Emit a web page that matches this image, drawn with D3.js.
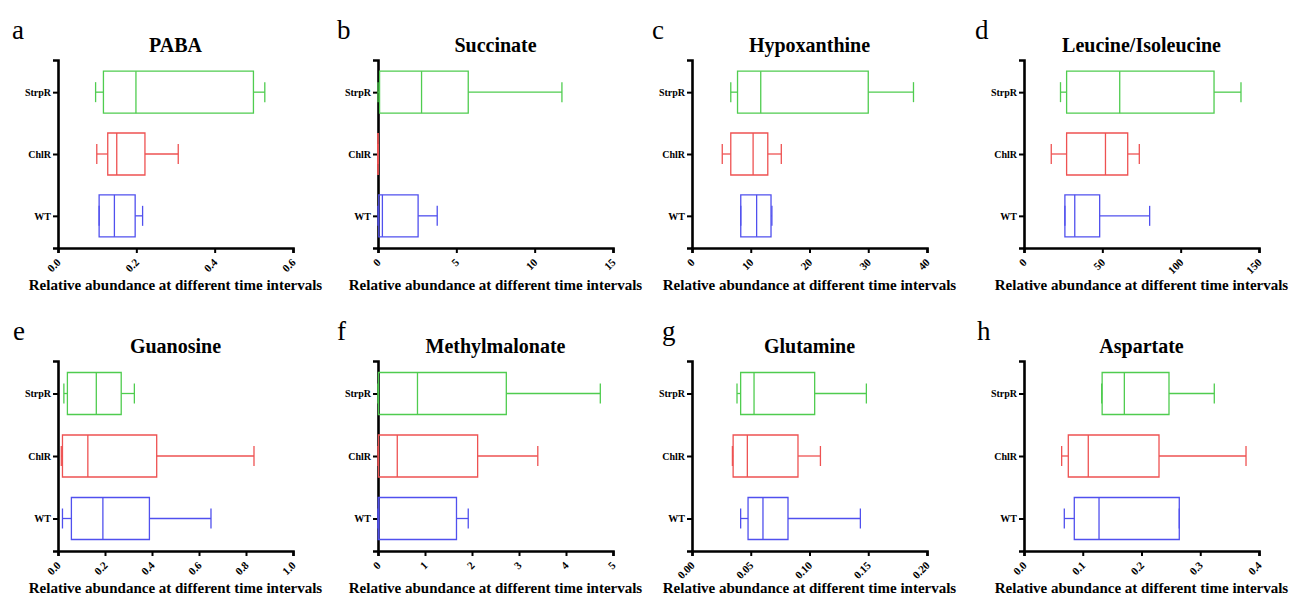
<!DOCTYPE html>
<html>
<head>
<meta charset="utf-8">
<script src="https://cdn.jsdelivr.net/npm/d3@7"></script>
<style>
  html, body { margin: 0; padding: 0; background: #fff; }
  svg { display: block; }
  svg text { font-family: "Liberation Serif", serif !important; }
</style>
</head>
<body>
<svg id="chart" width="1293" height="596" font-family="Liberation Serif"></svg>
<script>

// groups shown on every panel, top to bottom
var groups = ['StrpR', 'ChlR', 'WT'];
var groupColors = ['#4fcc4f', '#ee5252', '#5050ee'];

var panelLetters = ['a', 'b', 'c', 'd', 'e', 'f', 'g', 'h'];
var panelTitles = ['PABA', 'Succinate', 'Hypoxanthine', 'Leucine/Isoleucine',
                   'Guanosine', 'Methylmalonate', 'Glutamine', 'Aspartate'];

var xMax = [0.6, 15, 40, 150, 1.0, 5, 0.2, 0.4];
var xTicks = [
  [0, 0.2, 0.4, 0.6],
  [0, 5, 10, 15],
  [0, 10, 20, 30, 40],
  [0, 50, 100, 150],
  [0, 0.2, 0.4, 0.6, 0.8, 1.0],
  [0, 1, 2, 3, 4, 5],
  [0, 0.05, 0.10, 0.15, 0.20],
  [0, 0.1, 0.2, 0.3, 0.4]
];
var xDecimals = [1, 0, 0, 0, 1, 0, 2, 1];

// [min, q1, median, q3, max] for StrpR, ChlR, WT
var paba = [[0.096, 0.116, 0.199, 0.499, 0.528], [0.099, 0.127, 0.150, 0.222, 0.307], [0.105, 0.105, 0.144, 0.197, 0.216]];
var succinate = [[0, 0.1, 2.78, 5.76, 11.74], [0, 0, 0, 0, 0], [0, 0.05, 0.28, 2.56, 3.78]];
var hypoxanthine = [[6.6, 7.75, 11.7, 30.0, 37.7], [5.15, 6.6, 10.4, 12.9, 15.2], [8.3, 8.3, 11.0, 13.45, 13.6]];
var leucine = [[23.3, 27.2, 61.1, 121.3, 138.5], [17.4, 27.2, 52, 66.2, 73.6], [26.1, 26.1, 32.4, 48.3, 80.2]];
var guanosine = [[0.025, 0.040, 0.163, 0.269, 0.325], [0.014, 0.019, 0.127, 0.420, 0.834], [0.019, 0.057, 0.191, 0.389, 0.651]];
var methylmalonate = [[0, 0.01, 0.84, 2.73, 4.73], [0, 0.01, 0.41, 2.12, 3.40], [0, 0.005, 0.02, 1.67, 1.92]];
var glutamine = [[0.0383, 0.0414, 0.0528, 0.1044, 0.1484], [0.0344, 0.035, 0.0471, 0.0902, 0.1093], [0.0414, 0.0477, 0.0604, 0.0817, 0.1433]];
var aspartate = [[0.1322, 0.133, 0.1708, 0.2468, 0.3239], [0.0641, 0.0754, 0.1094, 0.2298, 0.3779], [0.0686, 0.0856, 0.1277, 0.2643, 0.2643]];

var panelStats = [paba, succinate, hypoxanthine, leucine, guanosine, methylmalonate, glutamine, aspartate];

function main() {
  'use strict';

  var svg = d3.select('#chart');
  var serif = '"Liberation Serif", serif';

  /*====================================
  Layout
  ======================================*/

  var colX = [58, 378, 692, 1024];
  var plotW = 235;
  var rowTop = [60, 361];
  var rowBase = [248, 551];
  var letterX = [[12, 337, 652, 975], [13, 337, 662, 977]];
  var boxHalf = 21;
  var capHalf = 10;

  panelTitles.forEach(function (title, i) {
    var row = Math.floor(i / 4), col = i % 4;
    var x0 = colX[col], top = rowTop[row], base = rowBase[row];

    var x = d3.scaleLinear().domain([0, xMax[i]]).range([x0, x0 + plotW]);
    var y = d3.scalePoint().domain(groups).range([top, base]).padding(0.52);

    var g = svg.append('g').style('font-family', serif);

    // panel letter and title
    g.append('text')
      .attr('x', letterX[row][col])
      .attr('y', top - 21)
      .style('font-family', serif)
      .attr('font-size', 27)
      .text(panelLetters[i]);

    g.append('text')
      .attr('x', x0 + plotW / 2)
      .attr('y', top - 8)
      .attr('text-anchor', 'middle')
      .style('font-family', serif)
      .attr('font-size', 20)
      .attr('font-weight', 'bold')
      .text(title);

    /*====================================
    Axes
    ======================================*/

    var xAxis = g.append('g')
      .attr('transform', 'translate(0,' + base + ')')
      .call(d3.axisBottom(x)
        .tickValues(xTicks[i])
        .tickSizeOuter(0)
        .tickSize(5)
        .tickFormat(d3.format('.' + xDecimals[i] + 'f')));

    xAxis.attr('font-family', null);
    xAxis.select('.domain').attr('stroke', '#000').attr('stroke-width', 2.6);
    xAxis.selectAll('.tick line').attr('stroke', '#000').attr('stroke-width', 2);
    xAxis.selectAll('.tick text')
      .style('font-family', serif)
      .attr('font-weight', 'bold')
      .attr('font-size', 11)
      .attr('fill', '#000')
      .attr('text-anchor', 'end')
      .attr('dy', null)
      .attr('y', null)
      .attr('transform', 'translate(3,15) rotate(-45)');

    var yAxis = g.append('g')
      .attr('transform', 'translate(' + x0 + ',0)')
      .call(d3.axisLeft(y).tickSizeOuter(0).tickSize(5).tickPadding(2));

    yAxis.attr('font-family', null);
    yAxis.select('.domain').attr('stroke', '#000').attr('stroke-width', 2.6);
    yAxis.selectAll('.tick line').attr('stroke', '#000').attr('stroke-width', 2);
    yAxis.selectAll('.tick text')
      .style('font-family', serif)
      .attr('font-weight', 'bold')
      .attr('font-size', 10)
      .attr('fill', '#000');

    g.append('text')
      .attr('x', x0 + plotW / 2)
      .attr('y', base + 42)
      .attr('text-anchor', 'middle')
      .style('font-family', serif)
      .attr('font-size', 15)
      .attr('font-weight', 'bold')
      .text('Relative abundance at different time intervals');

    /*====================================
    Box plots
    ======================================*/

    var boxes = g.selectAll('g.box')
      .data(panelStats[i])
      .enter()
      .append('g')
      .attr('class', 'box')
      .attr('stroke', function (d, j) { return groupColors[j]; })
      .attr('stroke-width', 1.3)
      .attr('fill', 'none');

    boxes.append('path')
      .attr('d', function (d, j) {
        var cy = y(groups[j]);
        return 'M' + x(d[1]) + ',' + (cy - boxHalf) + 'H' + x(d[3]) +
               'V' + (cy + boxHalf) + 'H' + x(d[1]) + 'Z';
      });

    boxes.append('line')
      .attr('x1', function (d) { return x(d[2]); })
      .attr('x2', function (d) { return x(d[2]); })
      .attr('y1', function (d, j) { return y(groups[j]) - boxHalf; })
      .attr('y2', function (d, j) { return y(groups[j]) + boxHalf; });

    // whiskers: low side then high side
    [[0, 1], [4, 3]].forEach(function (pair) {
      boxes.append('line')
        .attr('x1', function (d) { return x(d[pair[0]]); })
        .attr('x2', function (d) { return x(d[pair[1]]); })
        .attr('y1', function (d, j) { return y(groups[j]); })
        .attr('y2', function (d, j) { return y(groups[j]); });

      boxes.append('line')
        .attr('x1', function (d) { return x(d[pair[0]]); })
        .attr('x2', function (d) { return x(d[pair[0]]); })
        .attr('y1', function (d, j) { return y(groups[j]) - capHalf; })
        .attr('y2', function (d, j) { return y(groups[j]) + capHalf; });
    });
  });
}
main();
</script>
</body>
</html>
